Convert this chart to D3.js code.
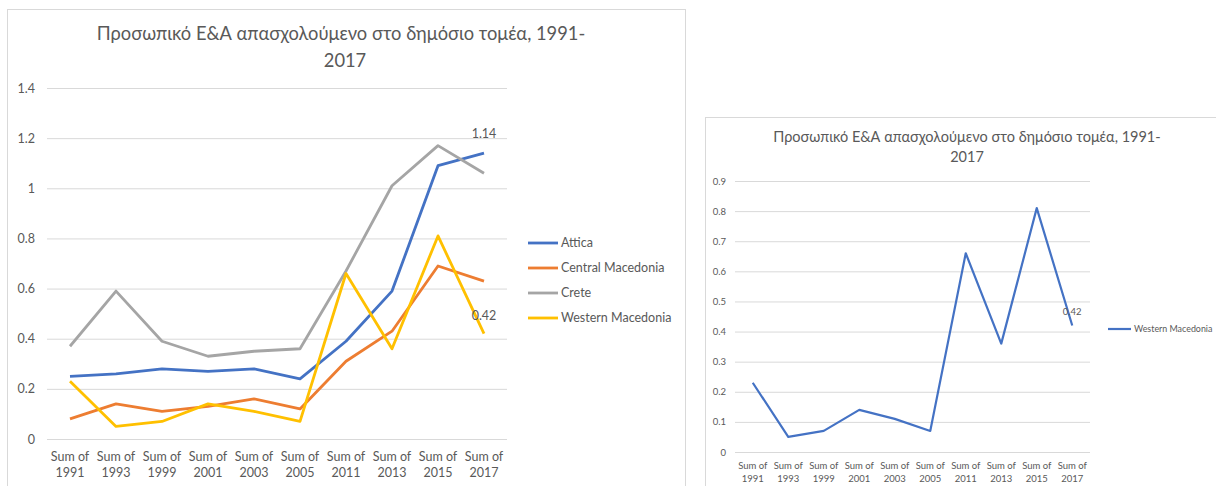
<!DOCTYPE html>
<html>
<head>
<meta charset="utf-8">
<script src="https://cdn.jsdelivr.net/npm/d3@7"></script>
<style>
  body { margin: 0; background: #fff; }
  svg { display: block; }
  text { font-family: Lato, "Open Sans", sans-serif; fill: #595959; }
</style>
</head>
<body>
<div id="chart"></div>
<script>
const years = ["1991", "1993", "1999", "2001", "2003", "2005", "2011", "2013", "2015", "2017"];
const seriesNames = ["Attica", "Central Macedonia", "Crete", "Western Macedonia"];
const attica = [0.25, 0.26, 0.28, 0.27, 0.28, 0.24, 0.39, 0.59, 1.09, 1.14];
const centralMacedonia = [0.08, 0.14, 0.11, 0.13, 0.16, 0.12, 0.31, 0.43, 0.69, 0.63];
const crete = [0.37, 0.59, 0.39, 0.33, 0.35, 0.36, 0.67, 1.01, 1.17, 1.06];
const westernMacedonia = [0.23, 0.05, 0.07, 0.14, 0.11, 0.07, 0.66, 0.36, 0.81, 0.42];
const leftTicks = [0, 0.2, 0.4, 0.6, 0.8, 1, 1.2, 1.4];
const rightTicks = [0, 0.1, 0.2, 0.3, 0.4, 0.5, 0.6, 0.7, 0.8, 0.9];
const titleLines = ["Προσωπικό Ε&Α απασχολούμενο στο δημόσιο τομέα, 1991-", "2017"];

const svg = d3.select("#chart")
              .append("svg")
              .attr("width", 1216)
              .attr("height", 486);

function drawChart(cfg) {
    const g = svg.append("g");

    // chart frame
    g.append("rect")
     .attr("x", cfg.box[0] + 0.5)
     .attr("y", cfg.box[1] + 0.5)
     .attr("width", cfg.box[2])
     .attr("height", cfg.box[3])
     .attr("fill", "#fff")
     .attr("stroke", "#d9d9d9");

    const x = d3.scaleBand()
                .domain(years)
                .range([cfg.left, cfg.right]);

    const y = d3.scaleLinear()
                .domain([0, d3.max(cfg.ticks)])
                .range([cfg.bottom, cfg.top]);

    // gridlines
    g.append("g")
     .attr("transform", `translate(${cfg.left},0)`)
     .call(d3.axisLeft(y).tickValues(cfg.ticks).tickSize(-(cfg.right - cfg.left)).tickFormat(""))
     .call(s => s.select(".domain").remove())
     .selectAll("line")
     .attr("stroke", "#d9d9d9");

    // y labels
    g.append("g")
     .attr("transform", `translate(${cfg.left},0)`)
     .call(d3.axisLeft(y).tickValues(cfg.ticks).tickSize(0).tickPadding(cfg.yPad).tickFormat(d => d3.format("")(+d.toFixed(1))))
     .call(s => s.select(".domain").remove())
     .selectAll("text")
     .attr("font-size", cfg.tickSize)
     .style("font-family", "Lato, sans-serif")
     .attr("fill", "#595959");

    // x labels, two lines each
    const xl = g.append("g")
                .selectAll("text")
                .data(years)
                .join("text")
                .attr("text-anchor", "middle")
                .attr("font-size", cfg.catSize)
                .attr("x", d => x(d) + x.bandwidth() / 2);
    xl.append("tspan").attr("x", d => x(d) + x.bandwidth() / 2).attr("y", cfg.catY[0]).text("Sum of");
    xl.append("tspan").attr("x", d => x(d) + x.bandwidth() / 2).attr("y", cfg.catY[1]).text(d => d);

    const line = d3.line()
                   .x((d, i) => x(years[i]) + x.bandwidth() / 2)
                   .y(d => y(d));

    cfg.series.forEach(s => {
        g.append("path")
         .datum(s.values)
         .attr("fill", "none")
         .attr("stroke", s.color)
         .attr("stroke-width", cfg.lineWidth)
         .attr("stroke-linejoin", "round")
         .attr("d", line);
    });

    // data labels on last point
    cfg.labels.forEach(l => {
        const v = l.values[l.values.length - 1];
        g.append("text")
         .attr("x", x(years[years.length - 1]) + x.bandwidth() / 2)
         .attr("y", y(v) - l.dy)
         .attr("text-anchor", "middle")
         .attr("font-size", cfg.labelSize)
         .attr("fill", "#404040")
         .text(d3.format(".2f")(v));
    });

    // title
    g.append("g")
     .selectAll("text")
     .data(titleLines)
     .join("text")
     .attr("x", (d, i) => cfg.titleX[i])
     .attr("y", (d, i) => cfg.titleY[i])
     .attr("text-anchor", "middle")
     .attr("font-size", cfg.titleSize)
     .text(d => d);

    // legend
    const lg = g.append("g")
                .selectAll("g")
                .data(cfg.series)
                .join("g")
                .attr("transform", (d, i) => `translate(${cfg.legendX},${cfg.legendY + i * cfg.legendStep})`);
    lg.append("line")
      .attr("x1", 0)
      .attr("x2", cfg.legendLen)
      .attr("stroke", d => d.color)
      .attr("stroke-width", cfg.lineWidth);
    lg.append("text")
      .attr("x", cfg.legendLen + 3)
      .attr("dy", "0.35em")
      .attr("font-size", cfg.legendSize)
      .text(d => d.name);
}

drawChart({
    box: [7, 9, 678, 500],
    left: 47, right: 507, top: 88, bottom: 439,
    ticks: leftTicks, yPad: 12, tickSize: 12.5,
    catSize: 12.5, catY: [461, 477],
    lineWidth: 2.8,
    series: [
        { name: seriesNames[0], values: attica, color: "#4472c4" },
        { name: seriesNames[1], values: centralMacedonia, color: "#ed7d31" },
        { name: seriesNames[2], values: crete, color: "#a5a5a5" },
        { name: seriesNames[3], values: westernMacedonia, color: "#ffc000" }
    ],
    labels: [
        { values: attica, dy: 15 },
        { values: westernMacedonia, dy: 14 }
    ],
    labelSize: 12.5,
    titleX: [341, 345], titleY: [40, 67], titleSize: 18.3,
    legendX: 528, legendY: 243, legendStep: 25, legendLen: 30, legendSize: 12.5
});

drawChart({
    box: [705, 117, 520, 380],
    left: 735, right: 1090, top: 181, bottom: 452,
    ticks: rightTicks, yPad: 9, tickSize: 9.5,
    catSize: 9.5, catY: [469, 482],
    lineWidth: 2.2,
    series: [
        { name: seriesNames[3], values: westernMacedonia, color: "#4472c4" }
    ],
    labels: [
        { values: westernMacedonia, dy: 11 }
    ],
    labelSize: 9.5,
    titleX: [967, 967], titleY: [142, 162], titleSize: 14.5,
    legendX: 1108, legendY: 329, legendStep: 20, legendLen: 23, legendSize: 8.9
});
</script>
</body>
</html>
